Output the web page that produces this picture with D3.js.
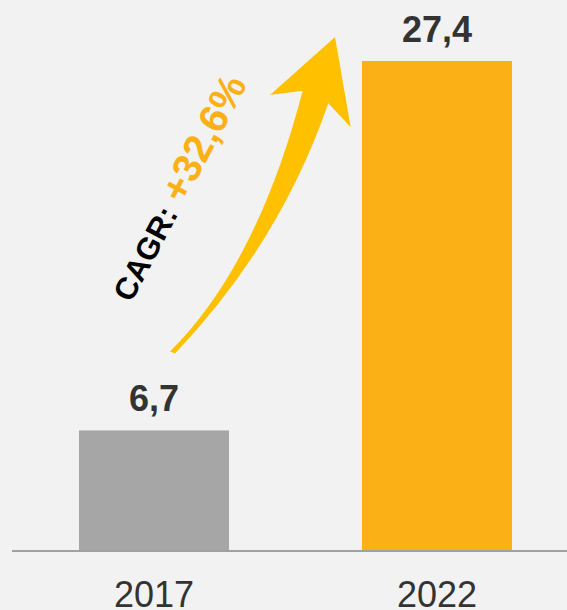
<!DOCTYPE html>
<html>
<head>
<meta charset="utf-8">
<script src="https://cdn.jsdelivr.net/npm/d3@7"></script>
<style>
    html, body { margin: 0; padding: 0; background: #f2f2f2; }
    svg { display: block; font-family: "Liberation Sans", Arial, sans-serif; }
</style>
</head>
<body>
<svg id="chart" width="567" height="610"></svg>
<script>
// chart data
const years = ["2017", "2022"];
const values = [6.7, 27.4];
const valueLabels = ["6,7", "27,4"];
const barColors = ["#a6a6a6", "#fbb016"];
const cagrLabel = "CAGR:";
const cagrValue = "+32,6%";

const width = 567;
const height = 610;

const svg = d3.select("#chart");

svg.append("rect")
    .attr("width", width)
    .attr("height", height)
    .attr("fill", "#f2f2f2");

const x = d3.scaleBand()
    .domain(years)
    .range([12, 579])
    .paddingInner(0.47)
    .paddingOuter(0.2367);

const y = d3.scaleLinear()
    .domain([0, d3.max(values)])
    .range([550, 61]);

const data = years.map((yr, i) => ({year: yr, value: values[i], label: valueLabels[i], color: barColors[i]}));

// bars
svg.append("g")
    .selectAll("rect")
    .data(data)
    .enter()
    .append("rect")
    .attr("x", d => x(d.year))
    .attr("y", d => y(d.value))
    .attr("width", x.bandwidth())
    .attr("height", d => y(0) - y(d.value))
    .attr("fill", d => d.color);

// value labels
svg.append("g")
    .selectAll("text")
    .data(data)
    .enter()
    .append("text")
    .attr("x", d => x(d.year) + x.bandwidth() / 2)
    .attr("y", d => y(d.value) - 19)
    .attr("text-anchor", "middle")
    .attr("font-size", 36)
    .attr("font-weight", "bold")
    .attr("fill", "#333333")
    .text(d => d.label);

// x axis
const xAxis = svg.append("g")
    .attr("transform", `translate(0,${y(0) + 1})`)
    .call(d3.axisBottom(x).tickSize(0).tickPadding(0));
xAxis.select(".domain").remove();
xAxis.append("line")
    .attr("x1", 12)
    .attr("x2", width)
    .attr("stroke", "#a0a0a0")
    .attr("stroke-width", 2);
xAxis.selectAll(".tick text")
    .attr("y", 56)
    .attr("dy", 0)
    .attr("font-size", 36)
    .attr("font-family", "'Liberation Sans', Arial, sans-serif")
    .attr("fill", "#333333");

// CAGR arrow, anchored on the bars
const tail = [x(years[0]) + x.bandwidth() / 2 + 18, y(values[0]) - 79];
const tip = [x(years[1]) - 27, y(values[1]) - 24];
const p = (base, dx, dy) => [base[0] + dx, base[1] + dy];

const leftCtrl = p(tail, 85, -86);
const rightCtrl = p(tail, 108, -108);
const leftNotch = p(tip, -32.3, 53.7);
const leftBarb = p(tip, -65, 58);
const rightBarb = p(tip, 15.7, 90.3);
const rightNotch = p(tip, -6.7, 66.3);

const arrow = d3.path();
arrow.moveTo(tail[0] - 2, tail[1]);
arrow.quadraticCurveTo(leftCtrl[0], leftCtrl[1], leftNotch[0], leftNotch[1]);
arrow.lineTo(leftBarb[0], leftBarb[1]);
arrow.lineTo(tip[0], tip[1]);
arrow.lineTo(rightBarb[0], rightBarb[1]);
arrow.lineTo(rightNotch[0], rightNotch[1]);
arrow.quadraticCurveTo(rightCtrl[0], rightCtrl[1], tail[0] + 3, tail[1] + 2);
arrow.closePath();

svg.append("path")
    .attr("d", arrow.toString())
    .attr("fill", "#ffc000");

// CAGR text: black label, larger orange rate
const textPos = p(tail, -41, -48);
const cagr = svg.append("text")
    .attr("transform", `translate(${textPos[0]},${textPos[1]}) rotate(-62)`)
    .attr("font-size", 31)
    .attr("font-weight", "bold");
cagr.append("tspan")
    .attr("fill", "#000000")
    .text(cagrLabel);
cagr.append("tspan")
    .attr("dx", 10)
    .attr("font-size", 40)
    .attr("fill", "#fbb016")
    .text(cagrValue);
</script>
</body>
</html>
